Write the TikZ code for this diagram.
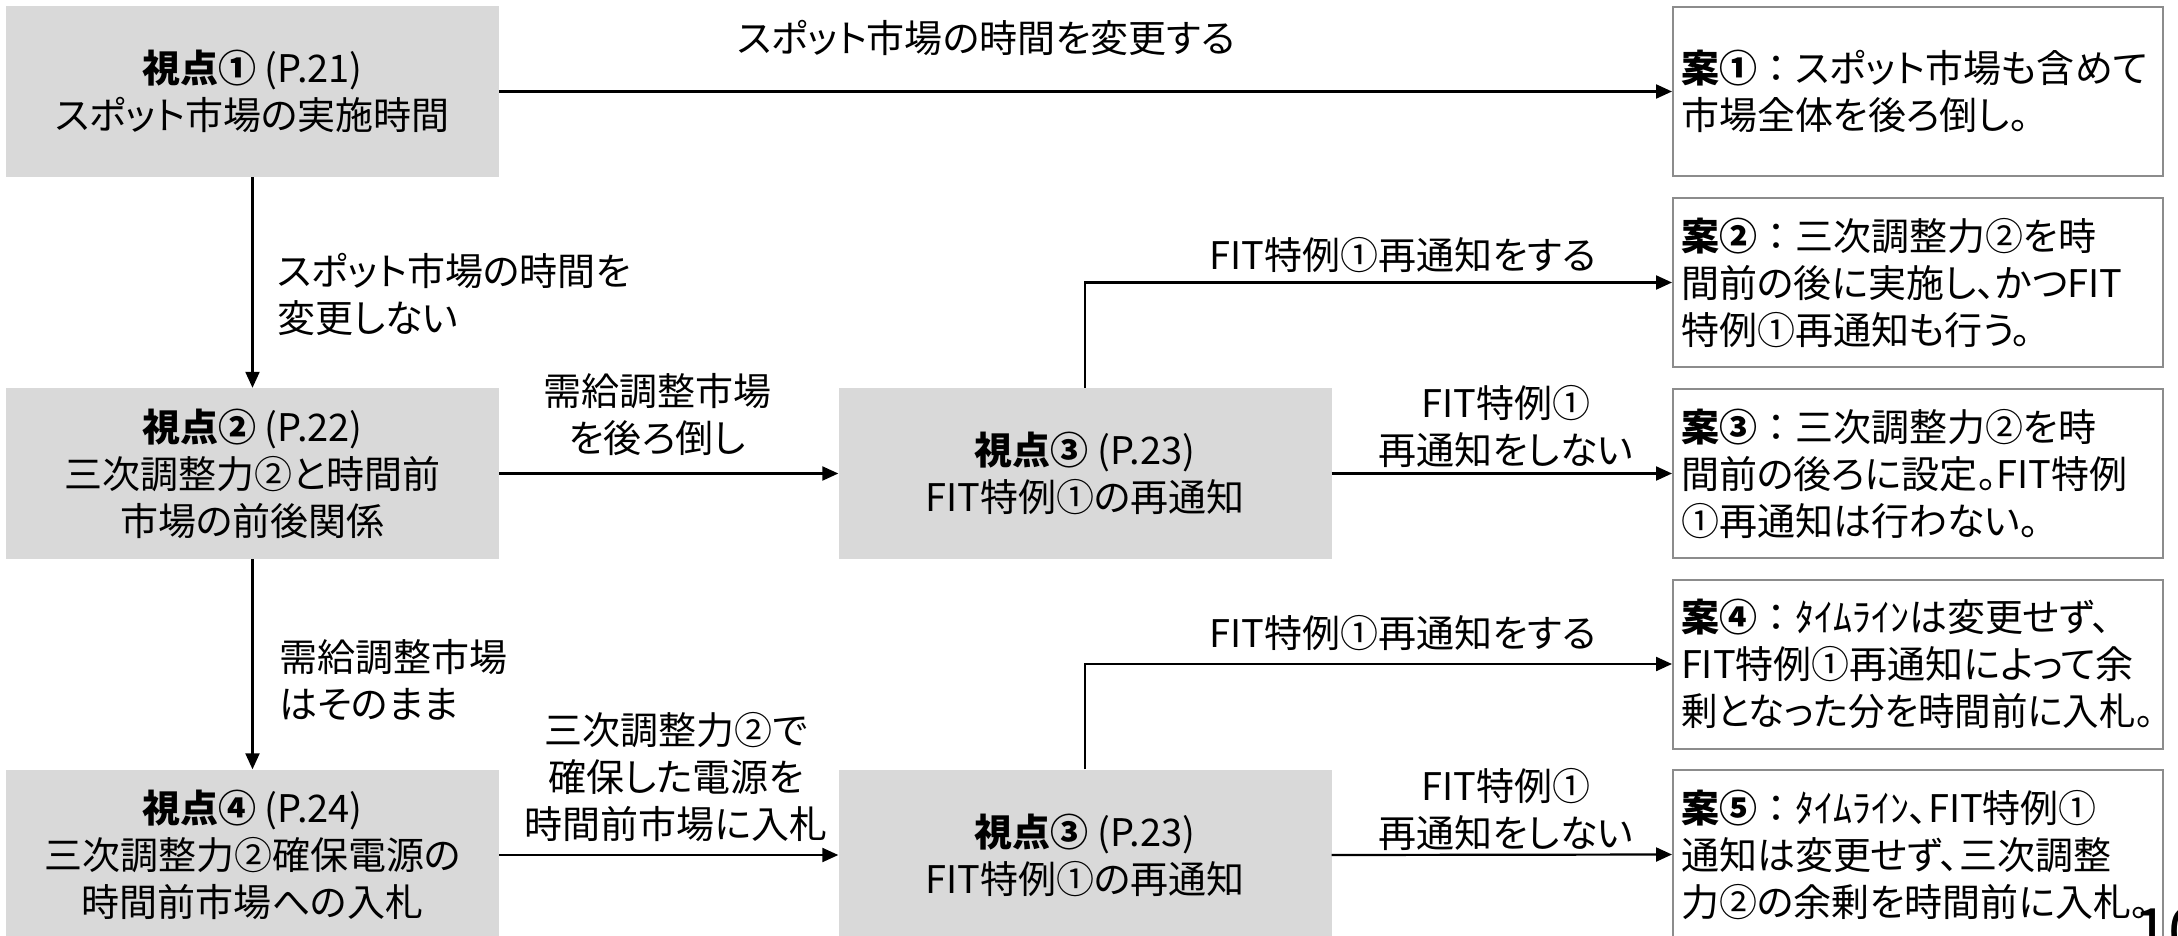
\documentclass[tikz,border=0pt]{standalone}
\usepackage{fontspec}
\setmainfont{Noto Sans CJK JP}[RawFeature=+palt]
\newfontfamily\fwfont{Noto Sans CJK JP}
\usetikzlibrary{arrows.meta}
\definecolor{boxgray}{HTML}{D9D9D9}
\definecolor{framegray}{HTML}{8C8C8C}
\newcommand{\fwcolon}{{\fwfont ：}}
\begin{document}
\begin{tikzpicture}[x=1pt,y=-1pt,
  every node/.style={font=\fontsize{38}{47}\selectfont},
  view/.style={fill=boxgray, minimum width=493pt, minimum height=171pt, align=center, inner sep=0pt},
  plan/.style={draw=framegray, line width=2pt, fill=white, minimum width=490pt, minimum height=169pt, text width=474pt, align=left, inner sep=8pt},
  arr/.style={line width=2.2pt, -{Triangle[length=16pt,width=14pt]}},
  lbl/.style={align=center, inner sep=0pt}]
\useasboundingbox (0,0) rectangle (2178,936);
% viewpoint boxes
\node[view] (v1) at (252.5,91.5) {\textbf{視点①} (P.21)\\スポット市場の実施時間};
\node[view] (v2) at (252.5,473.5) {\textbf{視点②} (P.22)\\三次調整力②と時間前\\市場の前後関係};
\node[view] (v4) at (252.5,855) {\textbf{視点④} (P.24)\\三次調整力②確保電源の\\時間前市場への入札};
\node[view] (v3a) at (1085,473.5) {\textbf{視点③} (P.23)\\FIT特例①の再通知};
\node[view] (v3b) at (1085,855) {\textbf{視点③} (P.23)\\FIT特例①の再通知};
% plan boxes
\node[plan] (a1) at (1918,91.5) {\textbf{案①}\fwcolon スポット市場も含めて\\市場全体を後ろ倒し。};
\node[plan] (a2) at (1918,282.5) {\textbf{案②}\fwcolon 三次調整力②を時\\間前の後に実施し、かつFIT\\特例①再通知も行う。};
\node[plan] (a3) at (1918,473.5) {\textbf{案③}\fwcolon 三次調整力②を時\\間前の後ろに設定。FIT特例\\①再通知は行わない。};
\node[plan] (a4) at (1918,664) {\textbf{案④}\fwcolon ﾀｲﾑﾗｲﾝは変更せず、\\FIT特例①再通知によって余\\\scalebox{0.96}[1]{剰となった分を時間前に入札。}};
\node[plan] (a5) at (1918,854.5) {\textbf{案⑤}\fwcolon ﾀｲﾑﾗｲﾝ、FIT特例①\\通知は変更せず、三次調整\\力②の余剰を時間前に入札。};
% labels
\node[lbl] (l1) at (986,38) {スポット市場の時間を変更する};
\node[lbl, align=left, anchor=west] (l2) at (277,294) {スポット市場の時間を\\変更しない};
\node[lbl] (l3) at (657,415) {需給調整市場\\を後ろ倒し};
\node[lbl] (l4) at (1403,255) {FIT特例①再通知をする};
\node[lbl] (l5) at (1506,426) {FIT特例①\\再通知をしない};
\node[lbl, align=left, anchor=west] (l6) at (279,680) {需給調整市場\\はそのまま};
\node[lbl] (l7) at (676,777) {三次調整力②で\\確保した電源を\\時間前市場に入札};
\node[lbl] (l8) at (1403,633) {FIT特例①再通知をする};
\node[lbl] (l9) at (1506,809) {FIT特例①\\再通知をしない};
% connectors
\draw[arr] (v1.east) -- (a1.west);
\draw[arr] (v1.south) -- (v2.north);
\draw[arr] (v2.east) -- (v3a.west);
\draw[arr] (v3a.north) |- (a2.west);
\draw[arr] (v3a.east) -- (a3.west);
\draw[arr] (v2.south) -- (v4.north);
\draw[arr] (v4.east) -- (v3b.west);
\draw[arr] (v3b.north) |- (a4.west);
\draw[arr] (v3b.east) -- (a5.west);
% page number (mostly outside the page, as in the reference)
\node[anchor=north west, inner sep=0pt, font=\fontsize{64}{64}\selectfont] (pg) at (2133,908) {10};
\end{tikzpicture}
\end{document}
